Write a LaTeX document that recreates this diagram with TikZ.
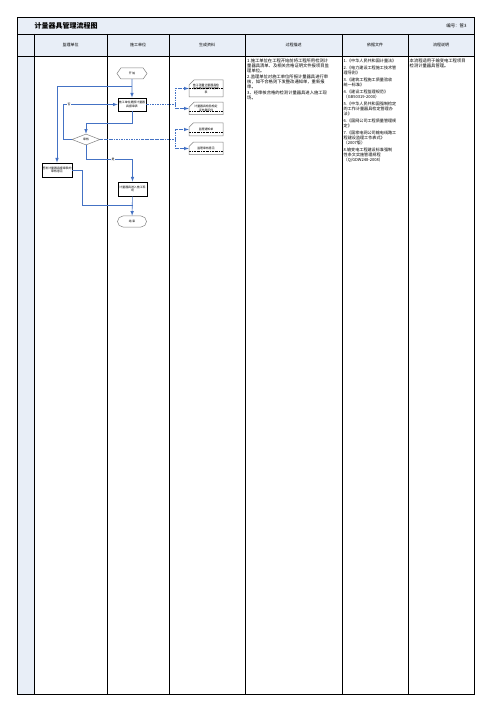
\documentclass[tikz,border=0pt]{standalone}
\usepackage{fontspec}
\setmainfont{Noto Sans CJK SC}
\usetikzlibrary{shapes.geometric,shapes.misc,shapes.symbols}

\definecolor{headblue}{HTML}{E8EEF7}
\definecolor{lineblue}{HTML}{4472C4}
\definecolor{shapegray}{HTML}{808080}

\tikzset{
  flow/.style={draw=lineblue, line width=0.6pt},
  dataflow/.style={draw=lineblue, line width=0.6pt, dash pattern=on 2.5pt off 1pt on 0.6pt off 1pt},
  boxfont/.style={font=\fontsize{2.9}{3.6}\selectfont},
  procbox/.style={draw=black, line width=0.8pt, minimum width=28pt, minimum height=13pt, inner sep=0.5pt, align=center, boxfont},
  startstop/.style={draw=shapegray, line width=0.5pt, signal, signal to=east and west, signal pointer angle=110, minimum width=30pt, minimum height=11pt, inner sep=0.5pt, boxfont},
  endstop/.style={draw=shapegray, line width=0.5pt, rounded rectangle, minimum width=30pt, minimum height=11pt, inner sep=0.5pt, boxfont},
  decision/.style={draw=shapegray, line width=0.5pt, diamond, minimum width=28pt, minimum height=11pt, inner sep=0pt, boxfont},
  docbox/.style={draw=shapegray, line width=0.5pt, chamfered rectangle, chamfered rectangle corners=north west, chamfered rectangle xsep=2.5pt, chamfered rectangle ysep=2.5pt, minimum width=34pt, inner sep=0.5pt, align=center, boxfont,
    path picture={\draw[black, line width=0.6pt, dash pattern=on 2pt off 1pt on 0.5pt off 1pt] ([yshift=#1]path picture bounding box.south west) -- ([yshift=#1]path picture bounding box.south east);}},
  docbox/.default=3.5pt,
  headtext/.style={font=\fontsize{4}{4.8}\selectfont},
  bodytext/.style={anchor=north west, align=left, inner sep=0pt},
  flowlabel/.style={fill=white, inner sep=0.3pt, boxfont}
}

\begin{document}
\begin{tikzpicture}[x=1pt, y=-1pt, >=latex]

\useasboundingbox (0,0) rectangle (503,711);

% table
\fill[headblue] (17,17) rectangle (474,56);
\fill[headblue] (17,56) rectangle (34,694);
\draw[line width=0.7pt] (17,17) rectangle (474,694);
\draw[line width=0.7pt] (17,34) -- (474,34);
\draw[line width=0.7pt] (17,56) -- (474,56);
\foreach \x in {34,107,169,245,342,408}
  \draw[line width=0.7pt] (\x,34) -- (\x,694);

\node[anchor=west, font=\fontsize{7}{8}\selectfont\bfseries] (title) at (31,25.5) {计量器具管理流程图};

\node[anchor=east, font=\fontsize{4.4}{5}\selectfont] (code) at (470,25.5) {编号：管3};

\node[headtext] (h1) at (70.5,45) {监理单位};
\node[headtext] (h2) at (138,45) {施工单位};
\node[headtext] (h3) at (207,45) {生成资料};
\node[headtext] (h4) at (293.5,45) {过程描述};
\node[headtext] (h5) at (375,45) {依据文件};
\node[headtext] (h6) at (441,45) {流程说明};

% flow
\node[startstop] (start) at (132,73.5) {开\ 始};

\node[procbox] (apply) at (132,104.5) {施工单位提报计量器\\具报审表};

\node[decision] (audit) at (86,139.5) {审核};

\node[procbox, minimum width=30pt, minimum height=14pt] (sign) at (57,170) {签发计量器具报审表的\\审核意见};

\node[procbox, minimum width=29pt, minimum height=14pt] (enter) at (132.5,189) {计量器具进入施工现\\场};

\node[endstop] (finish) at (132,221.5) {结\ 束};

\coordinate (fork) at (132,86);
\coordinate (join) at (132.5,205);

% documents
\node[docbox=8.5pt, minimum height=17pt] (doc1) at (206,88.5) {施工测量计量器具检\\定合格证明文件报审\\表};

\node[docbox, minimum height=12.5pt] (doc2) at (206,108.5) {计量器具检验检定\\证书复印件};

\node[docbox, minimum height=13pt] (doc3) at (206,129.5) {监理通知单};

\node[docbox, minimum height=12.5pt] (doc4) at (206,148.5) {监理审核意见};

\coordinate (dfork1) at (175,104.5);
\coordinate (dfork2) at (175,139.5);

\draw[flow,->] (start) -- (apply);
\draw[flow,->] (fork) -| (sign);
\draw[flow,->] (apply.south) -- ++(0,12) -| (audit.north);
\draw[flow,->] (audit.west) -- ++(-8,0) |- node[flowlabel, pos=0.55] {否} (apply.west);
\draw[flow,->] (audit.south) -- ++(0,14) -| node[flowlabel, pos=0.29] {是} (enter.north);
\draw[flow,->] (enter) -- (finish);
\draw[flow] (sign.east) -- ++(10,0) |- (join);

\draw[dataflow] (apply.east) -- (dfork1);
\draw[dataflow,->] (dfork1) |- (doc1.west);
\draw[dataflow,->] (dfork1) |- (doc2.west);
\draw[dataflow] (audit.east) -- (dfork2);
\draw[dataflow,->] (dfork2) |- (doc3.west);
\draw[dataflow,->] (dfork2) |- (doc4.west);

% text columns
\node[bodytext, font=\fontsize{4.3}{4.8}\selectfont] (desc) at (247,59) {1.施工单位在工程开始前将工程所用检测计\\量器具清单、及相关合格证明文件报项目监\\理单位。\\[1.3pt]2.监理单位对施工单位所报计量器具进行审\\核，如不合格则下发整改通知单，重新报\\审。\\[1.3pt]3、经审核合格的检测计量器具进入施工现\\场。};

\node[bodytext, font=\fontsize{4.1}{5}\selectfont] (basis) at (343.5,59) {1.《中华人民共和国计量法》\\[2pt]2.《电力建设工程施工技术管\\理导则》\\[2pt]3.《建筑工程施工质量验收\\统一标准》\\[2pt]4.《建设工程监理规范》\\（GB50319-2000）\\[2pt]5.《中华人民共和国强制检定\\的工作计量器具检定管理办\\法》\\[2pt]6.《国网公司工程质量管理规\\定》\\[2pt]7.《国家电网公司输电线路工\\程建设监理工作表式》\\（2007版）\\[2pt]8.输变电工程建设标准强制\\性条文实施管理规程\\（Q/GDW248-2008）};

\node[bodytext, font=\fontsize{4.3}{4.8}\selectfont] (note) at (409.5,59) {本流程适用于输变电工程项目\\检测计量器具管理。};

\end{tikzpicture}
\end{document}
